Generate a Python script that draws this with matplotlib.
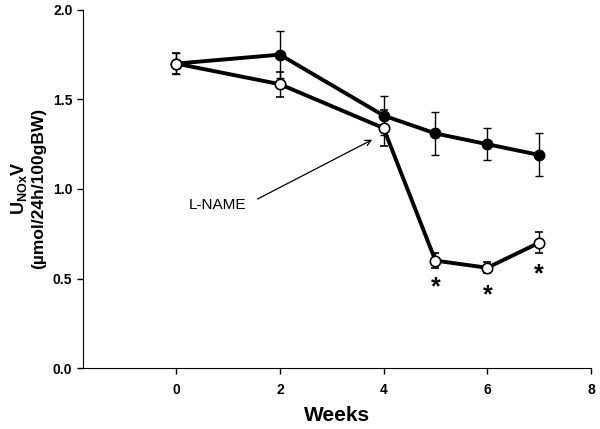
import matplotlib
matplotlib.use("Agg")
import matplotlib.pyplot as plt

plt.rcParams['font.family'] = ['Liberation Sans', 'DejaVu Sans']
plt.rcParams['mathtext.fontset'] = 'custom'
plt.rcParams['mathtext.rm'] = 'Liberation Sans'
plt.rcParams['mathtext.bf'] = 'Liberation Sans:bold'

# data
weeks_ctrl = [0, 2, 4, 5, 6, 7]
ctrl = [1.70, 1.75, 1.41, 1.31, 1.25, 1.19]
ctrl_err = [0.06, 0.13, 0.11, 0.12, 0.09, 0.12]

weeks_lname = [0, 2, 4, 5, 6, 7]
lname = [1.70, 1.585, 1.34, 0.60, 0.56, 0.70]
lname_err = [0.06, 0.07, 0.10, 0.04, 0.03, 0.06]

star_weeks = [5, 6, 7]
star_y = [0.45, 0.405, 0.525]

fig = plt.figure(figsize=(6, 4.29), dpi=100)
ax = fig.add_axes([0.138, 0.142, 0.847, 0.835])

ax.errorbar(weeks_ctrl, ctrl, yerr=ctrl_err, color='black', lw=2.8,
            marker='o', ms=7.5, mfc='black', mec='black',
            ecolor='black', elinewidth=1, capsize=3, capthick=1, zorder=3)
ax.errorbar(weeks_lname, lname, yerr=lname_err, color='black', lw=2.8,
            marker='o', ms=7.5, mfc='white', mec='black', mew=1.2,
            ecolor='black', elinewidth=1, capsize=3, capthick=1, zorder=4)

for w, y in zip(star_weeks, star_y):
    ax.text(w, y, '*', ha='center', va='center', fontsize=18, fontweight='bold')

ax.text(0.25, 0.91, 'L-NAME', ha='left', va='center', fontsize=11)
ax.annotate('', xy=(3.78, 1.275), xytext=(1.57, 0.944),
            arrowprops=dict(arrowstyle='->', color='black', lw=0.9,
                            shrinkA=0, shrinkB=0))

ax.set_xlim(-1.8, 8)
ax.set_ylim(0, 2.0)
ax.set_xticks([0, 2, 4, 6, 8])
ax.set_yticks([0.0, 0.5, 1.0, 1.5, 2.0])
ax.set_yticklabels(['0.0', '0.5', '1.0', '1.5', '2.0'])
for lab in ax.get_xticklabels() + ax.get_yticklabels():
    lab.set_fontweight('bold')
ax.tick_params(labelsize=10, length=4, width=1)
ax.tick_params(axis='x', pad=7)
ax.spines['top'].set_visible(False)
ax.spines['right'].set_visible(False)

ax.set_xlabel('Weeks', fontsize=15, fontweight='bold', labelpad=6)
fig.text(0.031, 0.56, r'$\mathbf{U_{NOx}V}$', rotation=90, ha='center', va='center', fontsize=13)
fig.text(0.064, 0.56, '(µmol/24h/100gBW)', rotation=90, ha='center', va='center',
         fontsize=12.5, fontweight='bold')

fig.savefig('out.png', dpi=100)
